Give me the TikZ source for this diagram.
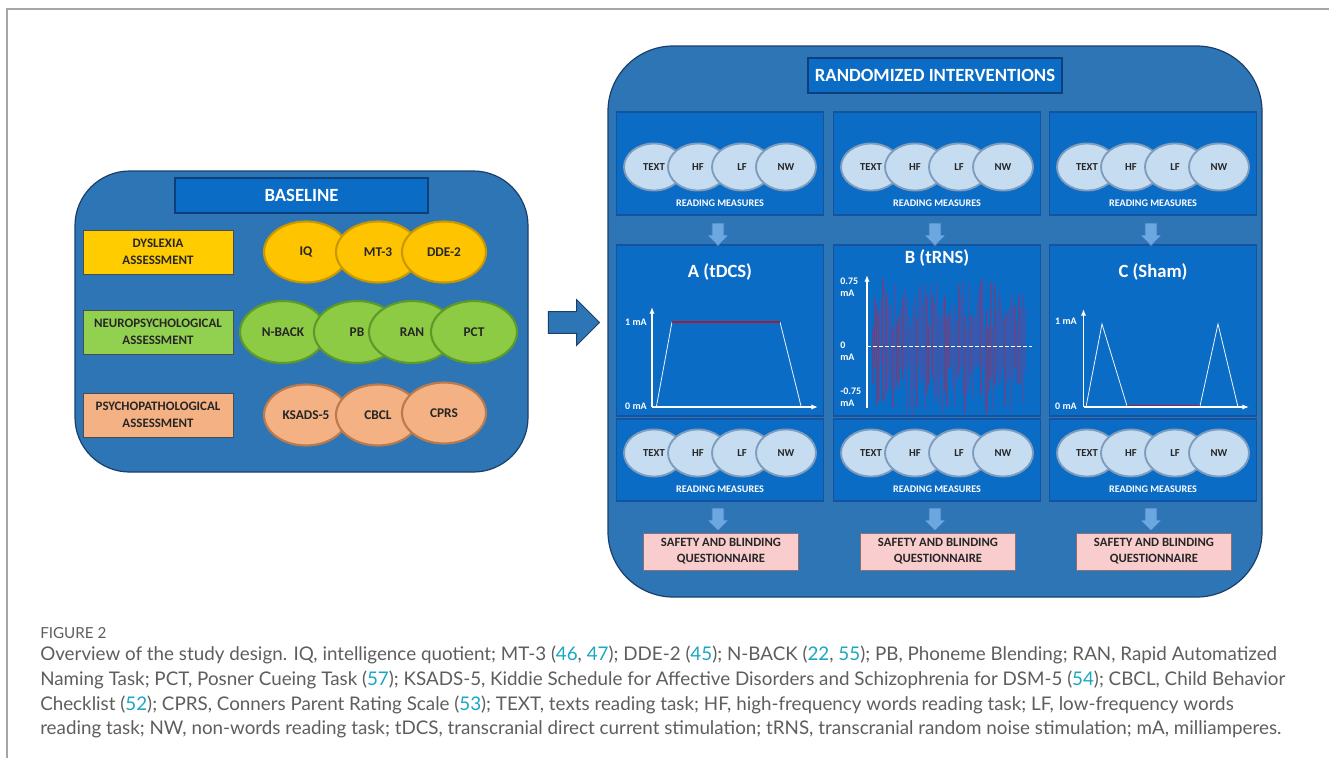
\documentclass[tikz,border=0pt]{standalone}
\usepackage{fontspec}
\setmainfont{Carlito}
\newfontfamily\capfont{Lato}
\usetikzlibrary{shapes.geometric,shapes.arrows,arrows.meta}
\definecolor{outerblue}{HTML}{2E75B6}
\definecolor{outeredge}{HTML}{1B3F6B}
\definecolor{panelblue}{HTML}{0B6CC6}
\definecolor{paneledge}{HTML}{1553A0}
\definecolor{titleblue}{HTML}{0A6CC4}
\definecolor{titleedge}{HTML}{0D3F7A}
\definecolor{dysfill}{HTML}{FFCC00}
\definecolor{yellE}{HTML}{FFC400}
\definecolor{yellR}{HTML}{C99700}
\definecolor{neufill}{HTML}{92D050}
\definecolor{greenE}{HTML}{8DCB45}
\definecolor{greenR}{HTML}{5E9A28}
\definecolor{psyfill}{HTML}{F4B183}
\definecolor{peachE}{HTML}{F4B183}
\definecolor{peachR}{HTML}{B97A4E}
\definecolor{circE}{HTML}{C6DCF1}
\definecolor{circR}{HTML}{7E9CBC}
\definecolor{safefill}{HTML}{F9CDCD}
\definecolor{safeedge}{HTML}{8C7070}
\definecolor{noisered}{HTML}{C41E48}
\definecolor{noisepurple}{HTML}{74408E}
\definecolor{flatred}{HTML}{A01E3C}
\definecolor{capgray}{HTML}{5E5E5E}
\definecolor{citeteal}{HTML}{1AA6C4}
\definecolor{framegray}{HTML}{A6A6A6}
\definecolor{darrow}{HTML}{6BA7E0}
\definecolor{darrowedge}{HTML}{3B72B4}
\newcommand{\rf}[1]{\textcolor{citeteal}{#1}}
\newcommand{\fz}[2]{\fontsize{#1pt}{#2pt}\selectfont}
\tikzset{
  sz/.style 2 args={minimum width=#1*0.75pt, minimum height=#2*0.75pt},
  container/.style={draw=outeredge, line width=0.9pt, fill=outerblue, inner sep=0pt},
  titlebox/.style={draw=titleedge, line width=0.8pt, fill=titleblue, text=white, font=\fz{14}{16}\bfseries, inner sep=0pt},
  panel/.style={draw=paneledge, line width=0.8pt, fill=panelblue, inner sep=0pt},
  labbox/.style={draw=black!70, line width=0.7pt, sz={150}{44}, align=center, inner sep=0pt, font=\fz{9.7}{12.75}\bfseries, text=black!85},
  bell/.style={ellipse, line width=1.6pt, sz={84}{61}, inner sep=0pt, font=\fz{10}{12}\bfseries, text=black!85},
  rcirc/.style={ellipse, fill=circE, draw=circR, line width=1.4pt, sz={60}{47}, inner sep=0pt, font=\fz{8}{10}\bfseries, text=black!85},
  rmtext/.style={text=white, font=\fz{7.6}{8}\bfseries, inner sep=0pt},
  darr/.style={single arrow, shape border rotate=270, fill=darrow, draw=darrowedge, line width=0.6pt, minimum height=23*0.75pt, minimum width=22*0.75pt, inner sep=4pt, single arrow head extend=3.5pt},
  safety/.style={fill=safefill, draw=safeedge, line width=0.7pt, sz={155}{37}, align=center, inner sep=0pt, font=\fz{9.5}{12}\bfseries, text=black!85},
  gtitle/.style={text=white, font=\fz{14}{16}\bfseries, inner sep=0pt},
  axlab/.style={text=white, font=\fz{7.5}{9}\bfseries, inner sep=0pt, align=left},
  axis/.style={white, line width=1.1pt, -{Latex[length=5pt,width=4pt]}},
  ramp/.style={white!90!gray, line width=0.6pt},
  flat/.style={flatred, line width=1.2pt},
  capline/.style={anchor=base west, inner sep=0pt, text=capgray, font=\capfont\fz{14.1}{16}}
}
\begin{document}
\begin{tikzpicture}[x=0.75pt,y=-0.75pt]
\useasboundingbox (0,0) rectangle (1329,758);
\fill[white] (0,0) rectangle (1329,758);
% frame
\draw[framegray, line width=1.1pt] (7,758) -- (7,9) -- (1329,9);

% ===== BASELINE =====
\node[container, sz={453}{301}, rounded corners=41pt] (base) at (301.5,321.5) {};
\node[titlebox, sz={253}{35}] (basetitle) at (301.5,195.5) {BASELINE};
\node[labbox, fill=dysfill] (dys) at (158,252) {DYSLEXIA\\ASSESSMENT};
\node[labbox, fill=neufill] (neu) at (158,332) {NEUROPSYCHOLOGICAL\\ASSESSMENT};
\node[labbox, fill=psyfill] (psy) at (158,415) {PSYCHOPATHOLOGICAL\\ASSESSMENT};
\node[bell, fill=yellE, draw=yellR] (iq) at (306,252) {IQ};
\node[bell, fill=yellE, draw=yellR] (mt) at (378,252) {MT-3};
\node[bell, fill=yellE, draw=yellR] (dde) at (444,252) {DDE-2};
\node[bell, fill=greenE, draw=greenR, sz={86}{62}] (nb) at (283,332) {N-BACK};
\node[bell, fill=greenE, draw=greenR, sz={86}{62}] (pb) at (357,332) {PB};
\node[bell, fill=greenE, draw=greenR, sz={86}{62}] (ran) at (412,332) {RAN};
\node[bell, fill=greenE, draw=greenR, sz={86}{62}] (pct) at (474,332) {PCT};
\node[bell, fill=peachE, draw=peachR] (ks) at (306,415) {KSADS-5};
\node[bell, fill=peachE, draw=peachR] (cb) at (378,415) {CBCL};
\node[bell, fill=peachE, draw=peachR] (cp) at (444,413) {CPRS};

% ===== RANDOMIZED =====
\node[container, sz={654}{551}, rounded corners=49pt] (rand) at (935,321.5) {};
\node[titlebox, sz={254}{35}] (randtitle) at (935,75.5) {RANDOMIZED INTERVENTIONS};

% big arrow between the two blocks
\node[single arrow, fill=outerblue, draw=outeredge, line width=0.7pt, minimum height=51*0.75pt, minimum width=45*0.75pt, inner sep=7.8pt, single arrow head extend=9pt] (bigarrow) at (568.5,322.5) {};

\foreach \k/\cx in {A/720,B/937,C/1153}{
  \node[panel, sz={207}{103}] (top\k) at (\cx,163.5) {};
  \node[panel, sz={207}{171}] (mid\k) at (\cx,330.5) {};
  \node[panel, sz={207}{82}] (bot\k) at (\cx,460) {};
  \foreach \j/\lab/\dx in {1/TEXT/-66,2/HF/-22,3/LF/22,4/NW/66}{
    \node[rcirc] (t\k\j) at (\cx+\dx,167) {\lab};
    \node[rcirc] (b\k\j) at (\cx+\dx,453) {\lab};
  }
  \node[rmtext] (trm\k) at (\cx,203) {READING MEASURES};
  \node[rmtext] (brm\k) at (\cx,489) {READING MEASURES};
  \node[darr] (da\k) at (\cx-2,231.5) {};
  \node[darr] (db\k) at (\cx-2,516.5) {};
  \node[safety] (safe\k) at (\cx+1,551.5) {SAFETY AND BLINDING\\QUESTIONNAIRE};
}

% ===== Graph A (tDCS) =====
\node[gtitle] (gA) at (720,272) {A (tDCS)};
\coordinate (oA) at (652,407);
\draw[ramp] (656.5,406) -- (672,322);
\draw[ramp] (780,322) -- (801,406);
\draw[flat] (672,322) -- (780,322);
\draw[axis] (oA) -- (652,307);
\draw[axis] (oA) -- (818,407);
\node[axlab] (a1) at (636,322) {1 mA};
\node[axlab] (a0) at (636,406) {0 mA};

% ===== Graph B (tRNS) =====
\node[gtitle] (gB) at (937,258) {B (tRNS)};
\pgfmathsetseed{23}
\foreach \i in {0,...,76}{
  \pgfmathsetmacro{\xx}{872+\i*2.0}
  \pgfmathsetmacro{\ya}{346-18-rnd*50}
  \pgfmathsetmacro{\yb}{346+18+rnd*52}
  \pgfmathsetmacro{\cc}{rnd}
  \ifdim\cc pt>0.7pt \def\barcol{noisered}\else\def\barcol{noisepurple}\fi
  \draw[\barcol, line width=0.75pt, opacity=0.8] (\xx,\ya) -- (\xx,\yb);
}
\draw[white, line width=0.6pt, dashed, dash pattern=on 3pt off 1.5pt] (867,346) -- (1032,346);
\draw[axis] (867,408) -- (867,275);
\node[axlab, anchor=west] (b75) at (840,287) {0.75\\mA};
\node[axlab, anchor=west] (b0) at (840,351) {0\\mA};
\node[axlab, anchor=west] (bm75) at (840,397) {-0.75\\mA};

% ===== Graph C (Sham) =====
\node[gtitle] (gC) at (1153,272) {C (Sham)};
\coordinate (oC) at (1083.5,407);
\draw[ramp] (1086,407) -- (1102,324) -- (1127,406);
\draw[ramp] (1200,406) -- (1218,324) -- (1238,407);
\draw[flat] (1127,406) -- (1200,406);
\draw[axis] (oC) -- (1083.5,309);
\draw[axis] (oC) -- (1249,407);
\node[axlab] (c1) at (1066,321) {1 mA};
\node[axlab] (c0) at (1066,406) {0 mA};

% ===== Caption =====
\node[capline, font=\capfont\fz{11.4}{13}] (figlab) at (40,638) {FIGURE 2};
\node[capline] (cap1) at (40,660) {Overview of the study design. IQ, intelligence quotient; MT-3 (\rf{46}, \rf{47}); DDE-2 (\rf{45}); N-BACK (\rf{22}, \rf{55}); PB, Phoneme Blending; RAN, Rapid Automatized};
\node[capline] (cap2) at (40,685) {Naming Task; PCT, Posner Cueing Task (\rf{57}); KSADS-5, Kiddie Schedule for Affective Disorders and Schizophrenia for DSM-5 (\rf{54}); CBCL, Child Behavior};
\node[capline] (cap3) at (40,710) {Checklist (\rf{52}); CPRS, Conners Parent Rating Scale (\rf{53}); TEXT, texts reading task; HF, high-frequency words reading task; LF, low-frequency words};
\node[capline] (cap4) at (40,734) {reading task; NW, non-words reading task; tDCS, transcranial direct current stimulation; tRNS, transcranial random noise stimulation; mA, milliamperes.};
\end{tikzpicture}
\end{document}
